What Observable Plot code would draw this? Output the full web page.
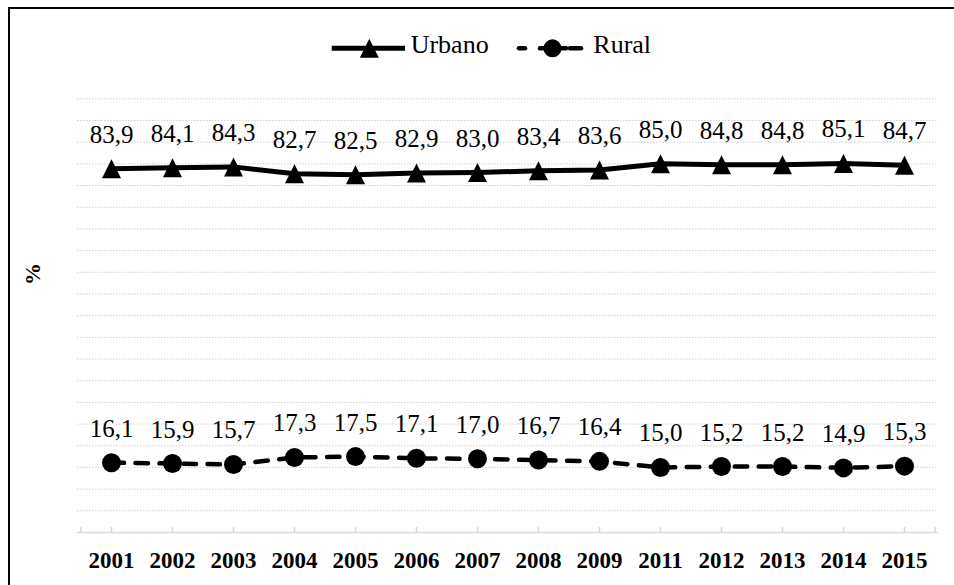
<!DOCTYPE html>
<html>
<head>
<meta charset="utf-8">
<script src="https://cdn.jsdelivr.net/npm/d3@7"></script>
<script src="https://cdn.jsdelivr.net/npm/@observablehq/plot@0.6"></script>
<style>
  html, body { margin: 0; padding: 0; background: #fff; overflow: hidden; }
  #wrap { position: relative; width: 954px; height: 585px; }
  #wrap, #wrap *, #wrap svg text, #wrap svg g { font-family: 'Liberation Serif', serif !important; }
  #border { position: absolute; left: 8px; top: 7px; width: 980px; height: 620px; border-left: 2px solid #000; border-top: 2px solid #000; box-sizing: border-box; }
  #chart { position: absolute; left: 0; top: 0; }
  #ylab { position: absolute; left: 33px; top: 274px; transform: translate(-50%, -50%) rotate(-90deg); font-weight: bold; font-size: 22px; color: #000; white-space: nowrap; }
  #legend { position: absolute; left: 0; top: 0; }
  .lt { position: absolute; top: 30px; font-size: 26px; line-height: 30px; color: #000; white-space: nowrap; }
</style>
</head>
<body>
<div id="wrap">
  <div id="chart"></div>
  <div id="border"></div>
  <div id="ylab" style="font-family:'Liberation Serif'">%</div>
  <svg id="legend" width="954" height="80"></svg>
  <div class="lt" id="lt0" style="left:410.7px;font-family:'Liberation Serif'"></div>
  <div class="lt" id="lt1" style="left:593.3px;font-family:'Liberation Serif'"></div>
</div>
<script>
const years = ["2001","2002","2003","2004","2005","2006","2007","2008","2009","2011","2012","2013","2014","2015"];
const urbano = [83.9, 84.1, 84.3, 82.7, 82.5, 82.9, 83.0, 83.4, 83.6, 85.0, 84.8, 84.8, 85.1, 84.7];
const rural  = [16.1, 15.9, 15.7, 17.3, 17.5, 17.1, 17.0, 16.7, 16.4, 15.0, 15.2, 15.2, 14.9, 15.3];
const seriesNames = ["Urbano", "Rural"];
const gridTicks = d3.range(5, 101, 5);
const FONT = "Liberation Serif, serif";

const rows = [];
years.forEach((y, i) => {
  rows.push({year: y, serie: seriesNames[0], value: urbano[i]});
  rows.push({year: y, serie: seriesNames[1], value: rural[i]});
});
const urb = rows.filter(d => d.serie === "Urbano");
const rur = rows.filter(d => d.serie === "Rural");
const fmt = v => v.toFixed(1).replace(".", ",");

const tri = {
  draw(ctx, size) {
    const w = 2 * Math.sqrt(size / Math.PI);
    const h = w;
    ctx.moveTo(0, -h / 2);
    ctx.lineTo(w / 2, h / 2);
    ctx.lineTo(-w / 2, h / 2);
    ctx.closePath();
  }
};

const W = 954, H = 585, ML = 77, MR = 16.3, MT = 98.3, MB = 53;
const half = (W - ML - MR) / years.length / 2;

const plot = Plot.plot({
  width: W,
  height: H,
  marginLeft: ML,
  marginRight: MR,
  marginTop: MT,
  marginBottom: MB,
  style: {fontFamily: FONT, color: "#000", background: "transparent"},
  x: {type: "point", domain: years, padding: 0.5, label: null},
  y: {domain: [0, 100], axis: null},
  marks: [
    Plot.gridY(gridTicks, {stroke: "#d0d0d0", strokeOpacity: 1, strokeWidth: 1, strokeDasharray: "1.5,1.5"}),
    Plot.ruleY([0], {stroke: "#d9d9d9", strokeWidth: 1.5}),
    Plot.ruleX(years, {x: d => d, y1: 0, y2: 1.2, stroke: "#d9d9d9", strokeWidth: 1.5}),
    Plot.ruleX([years[0]], {x: d => d, y1: 0, y2: 1.2, dx: -half, stroke: "#d9d9d9", strokeWidth: 1.5}),
    Plot.ruleX([years[years.length - 1]], {x: d => d, y1: 0, y2: 1.2, dx: half, stroke: "#d9d9d9", strokeWidth: 1.5}),
    Plot.axisX({tickSize: 0, tickPadding: 19, fontSize: 23, fontWeight: "bold", fontFamily: FONT, label: null}),
    Plot.line(urb, {x: "year", y: "value", stroke: "#000", strokeWidth: 5, strokeLinejoin: "round"}),
    Plot.line(rur, {x: "year", y: "value", stroke: "#000", strokeWidth: 4.5, strokeLinecap: "round", strokeDasharray: "12.5,11.5"}),
    Plot.dot(urb, {x: "year", y: "value", symbol: tri, r: 9.5, fill: "#000", stroke: "none"}),
    Plot.dot(rur, {x: "year", y: "value", symbol: "circle", r: 9.5, fill: "#000", stroke: "none"}),
    Plot.text(rows, {x: "year", y: "value", text: d => fmt(d.value), dy: -26, lineAnchor: "bottom", fontSize: 25, fontFamily: FONT, fill: "#000"})
  ]
});
document.getElementById("chart").appendChild(plot);

// Legend symbols
const lg = d3.select("#legend");
const ly = 48.3;
lg.append("line").attr("x1", 331.7).attr("x2", 405).attr("y1", ly).attr("y2", ly).attr("stroke", "#000").attr("stroke-width", 5);
lg.append("path").attr("transform", `translate(369.3,${ly})`).attr("d", "M0,-9.5L9.5,9.5L-9.5,9.5Z").attr("fill", "#000");
lg.append("line").attr("x1", 519).attr("x2", 525).attr("y1", ly).attr("y2", ly).attr("stroke", "#000").attr("stroke-width", 4.5).attr("stroke-linecap", "round");
lg.append("line").attr("x1", 540).attr("x2", 566).attr("y1", ly).attr("y2", ly).attr("stroke", "#000").attr("stroke-width", 4.5).attr("stroke-linecap", "round");
lg.append("line").attr("x1", 570).attr("x2", 581).attr("y1", ly).attr("y2", ly).attr("stroke", "#000").attr("stroke-width", 4.5).attr("stroke-linecap", "round");
lg.append("circle").attr("cx", 552.5).attr("cy", ly).attr("r", 9).attr("fill", "#000");
document.getElementById("lt0").textContent = seriesNames[0];
document.getElementById("lt1").textContent = seriesNames[1];
</script>
</body>
</html>
